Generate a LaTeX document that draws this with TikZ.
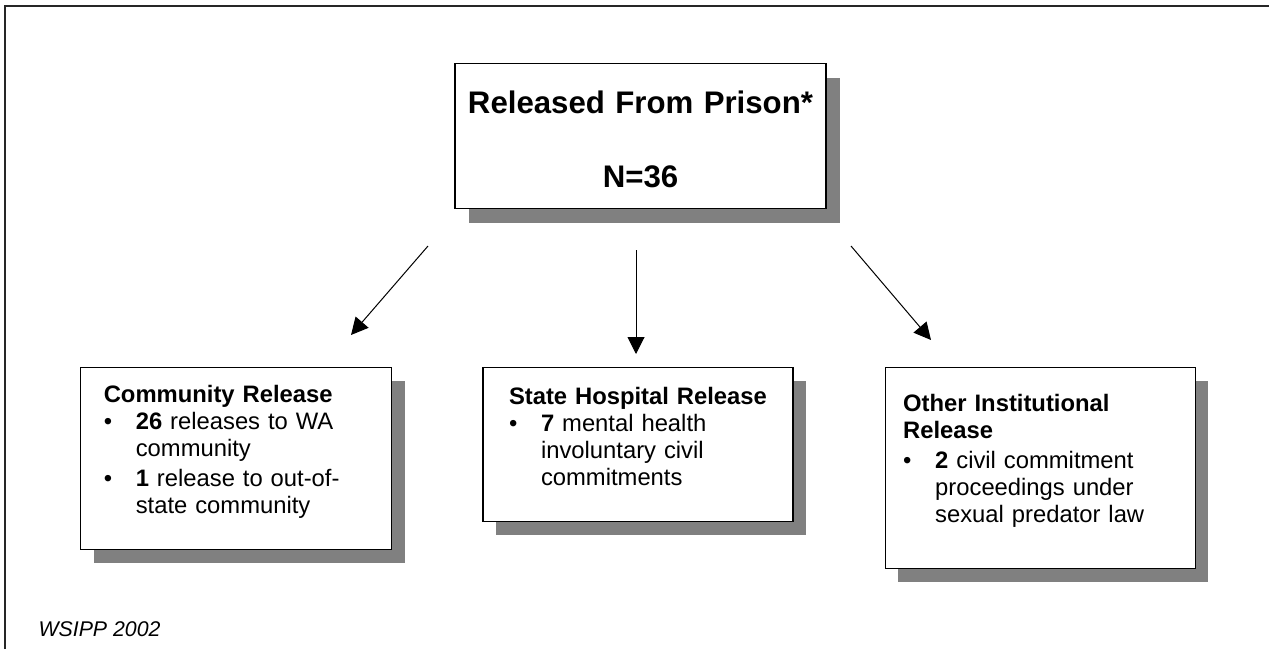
\documentclass[tikz,border=0pt]{standalone}
\usepackage{fontspec}
\setmainfont{Liberation Sans}
\usetikzlibrary{positioning,arrows.meta,shadows}

\newcommand{\bul}{\makebox[32pt][l]{\textbullet}}
\newcommand{\cont}{\hspace*{32pt}}

\tikzset{
    relbox/.style={draw, line width=1.2pt, fill=white, align=left, inner ysep=0pt,
        font=\fontsize{23.8}{27}\selectfont,
        general shadow={fill=black!50, shadow xshift=#1, shadow yshift=-#1}},
    relbox/.default=13pt,
    flow/.style={-{Triangle[length=17pt,width=17pt]}, line width=1pt}
}

\begin{document}
\begin{tikzpicture}[x=1pt, y=-1pt]
        \useasboundingbox (0,0) rectangle (1269,649);
        \draw[line width=1.6pt, black!85] (5,649) -- (5,6) -- (1269,6);

        \node[relbox=14pt, align=center, anchor=north, inner xsep=0pt, text width=371pt,
            text height=50pt, text depth=95pt,
            font=\bfseries\fontsize{31.2}{74}\selectfont] (prison) at (640.5,63)
            {Released From Prison*\\N=36};

        \node[relbox, below=158pt of prison, xshift=-2.5pt, inner xsep=26pt,
            text width=258pt, text height=37pt, text depth=117pt] (hosp)
            {\textbf{State Hospital Release}\\
             \bul\textbf{7} mental health\\
             \cont involuntary civil\\
             \cont commitments};
        \node[relbox, left=90pt of hosp.north west, anchor=north east, inner xsep=23pt,
            text width=265pt, text height=35pt, text depth=147pt] (comm)
            {\textbf{Community Release}\\
             \bul\textbf{26} releases to WA\\
             \cont community\\[3pt]
             \bul\textbf{1} release to out-of-\\
             \cont state community};
        \node[relbox, right=91pt of hosp.north east, anchor=north west, inner xsep=18pt,
            text width=274pt, text height=44pt, text depth=157pt] (other)
            {\textbf{Other Institutional}\\
             \textbf{Release}\\[3pt]
             \bul\textbf{2} civil commitment\\
             \cont proceedings under\\
             \cont sexual predator law};

        \node[anchor=base west, font=\itshape\fontsize{21.3}{25}\selectfont] (src)
            at (35,636) {WSIPP 2002};

        % arrows out of the prison box
        \coordinate (fromcomm) at (428,246);
        \coordinate (tocomm) at (351,335);
        \coordinate (fromhosp) at (636,250);
        \coordinate (tohosp) at (636,354);
        \coordinate (fromother) at (851,246);
        \coordinate (toother) at (931,340);
        \draw[flow] (fromcomm) -- (tocomm);
        \draw[flow] (fromhosp) -- (tohosp);
        \draw[flow] (fromother) -- (toother);
\end{tikzpicture}
\end{document}
